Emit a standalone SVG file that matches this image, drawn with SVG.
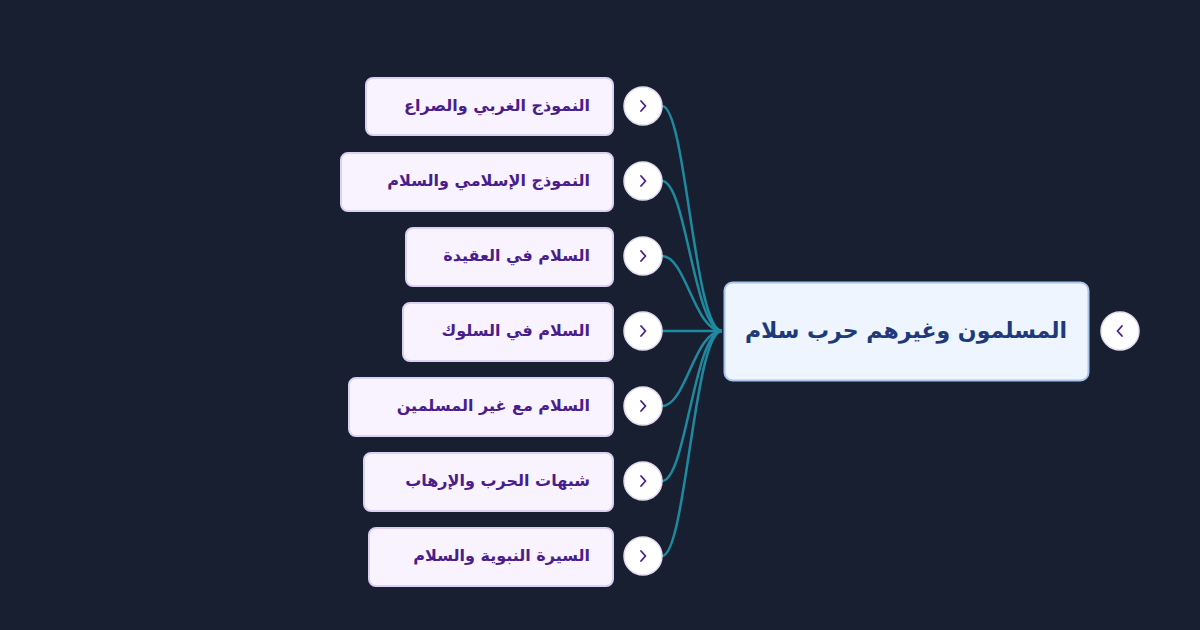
<svg xmlns="http://www.w3.org/2000/svg" width="1200" height="630" viewBox="0 0 1200 630">
<style>
.bg{fill:#181f30}
.child rect{fill:#f8f3ff;stroke:#ddd0f5;stroke-width:2}
.child text{fill:#4a1d8c;font-family:"DejaVu Sans","Noto Sans",sans-serif;font-weight:bold;font-size:16px}
.btn circle{fill:#ffffff;stroke:#e4dcf3;stroke-width:1.5}
.btn path{fill:none;stroke:#4a1d8c;stroke-width:1.8;stroke-linecap:round;stroke-linejoin:round}
.root rect{fill:#eef5ff;stroke:#a8c3ec;stroke-width:2}
.root text{fill:#1e3a7b;font-family:"DejaVu Sans","Noto Sans",sans-serif;font-weight:bold;font-size:22px}
.conn path{fill:none;stroke:#1e8aa0;stroke-width:2.5}
</style>
<rect class="bg" x="0" y="0" width="1200" height="630"/>
<g id="connectors" class="conn">
<path d="M662,106 C686,106 694,331 722,331"/>
<path d="M662,181 C686,181 694,331 722,331"/>
<path d="M662,256 C686,256 694,331 722,331"/>
<path d="M662,331 L722,331"/>
<path d="M662,406 C686,406 694,331 722,331"/>
<path d="M662,481 C686,481 694,331 722,331"/>
<path d="M662,556 C686,556 694,331 722,331"/>
</g>
<g id="root" class="root">
<rect x="724.5" y="282.5" width="364" height="98" rx="8"/>
<text x="906" y="338" text-anchor="middle">المسلمون وغيرهم حرب سلام</text>
</g>
<g id="root-toggle" class="btn">
<circle cx="1120" cy="331" r="19"/>
<path d="M1122,326 L1117.5,331 L1122,336"/>
</g>
<g id="n1" class="child">
<rect x="366" y="78" width="247" height="57" rx="7"/>
<text x="590" y="111" direction="rtl" text-anchor="start">النموذج الغربي والصراع</text>
</g>
<g id="n1-toggle" class="btn"><circle cx="643" cy="106" r="19"/><path d="M641,101 L645.5,106 L641,111"/></g>
<g id="n2" class="child">
<rect x="341" y="153" width="272" height="58" rx="7"/>
<text x="590" y="186" direction="rtl" text-anchor="start">النموذج الإسلامي والسلام</text>
</g>
<g id="n2-toggle" class="btn"><circle cx="643" cy="181" r="19"/><path d="M641,176 L645.5,181 L641,186"/></g>
<g id="n3" class="child">
<rect x="406" y="228" width="207" height="58" rx="7"/>
<text x="590" y="261" direction="rtl" text-anchor="start">السلام في العقيدة</text>
</g>
<g id="n3-toggle" class="btn"><circle cx="643" cy="256" r="19"/><path d="M641,251 L645.5,256 L641,261"/></g>
<g id="n4" class="child">
<rect x="403" y="303" width="210" height="58" rx="7"/>
<text x="590" y="336" direction="rtl" text-anchor="start">السلام في السلوك</text>
</g>
<g id="n4-toggle" class="btn"><circle cx="643" cy="331" r="19"/><path d="M641,326 L645.5,331 L641,336"/></g>
<g id="n5" class="child">
<rect x="349" y="378" width="264" height="58" rx="7"/>
<text x="590" y="411" direction="rtl" text-anchor="start">السلام مع غير المسلمين</text>
</g>
<g id="n5-toggle" class="btn"><circle cx="643" cy="406" r="19"/><path d="M641,401 L645.5,406 L641,411"/></g>
<g id="n6" class="child">
<rect x="364" y="453" width="249" height="58" rx="7"/>
<text x="590" y="486" direction="rtl" text-anchor="start">شبهات الحرب والإرهاب</text>
</g>
<g id="n6-toggle" class="btn"><circle cx="643" cy="481" r="19"/><path d="M641,476 L645.5,481 L641,486"/></g>
<g id="n7" class="child">
<rect x="369" y="528" width="244" height="58" rx="7"/>
<text x="590" y="561" direction="rtl" text-anchor="start">السيرة النبوية والسلام</text>
</g>
<g id="n7-toggle" class="btn"><circle cx="643" cy="556" r="19"/><path d="M641,551 L645.5,556 L641,561"/></g>
</svg>
